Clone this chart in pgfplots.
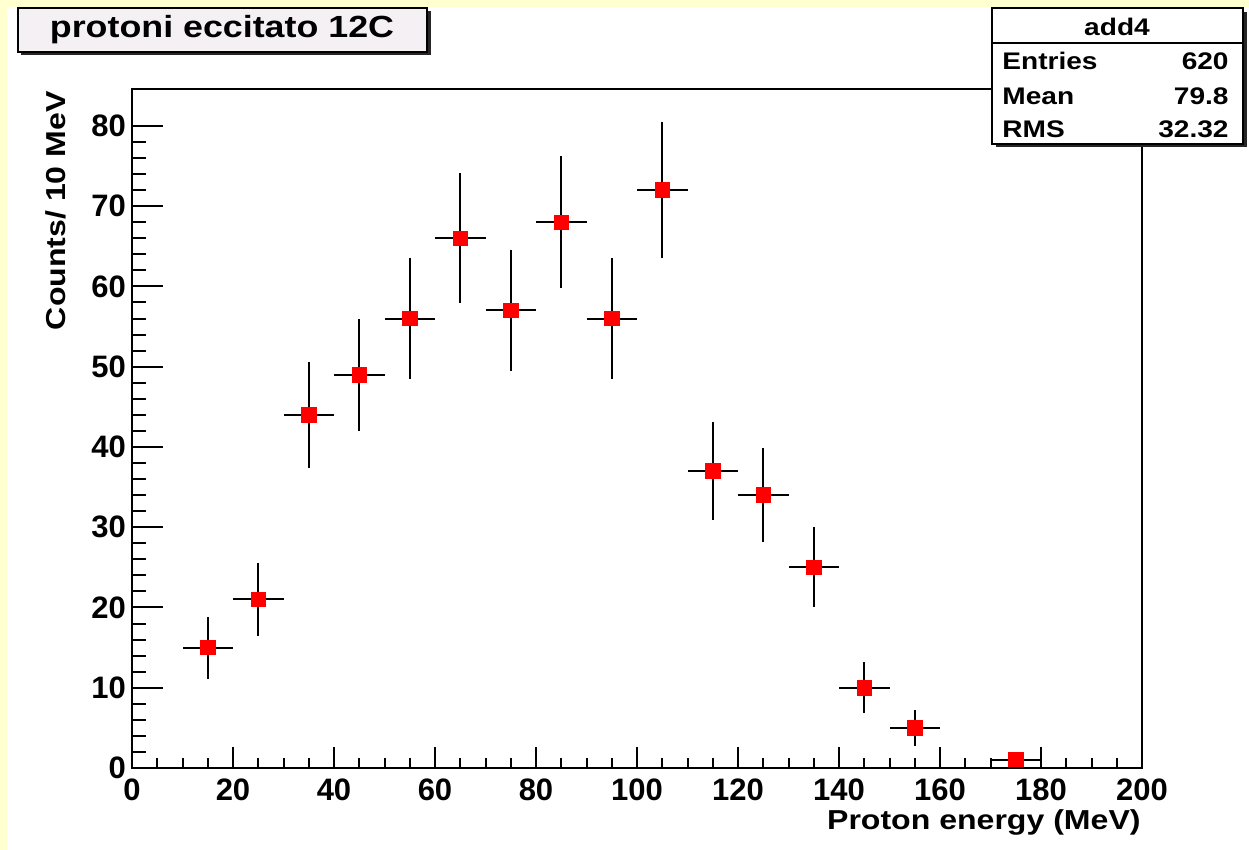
\documentclass[border=0pt]{standalone}
\usepackage{fontspec}
\setmainfont{Liberation Sans}
\newfontfamily\wide{Liberation Sans}[FakeStretch=1.17]
\usepackage{pgfplots}
\pgfplotsset{compat=1.18}
\definecolor{canvasyellow}{RGB}{255,255,208}
\definecolor{titlefill}{RGB}{244,240,244}

\pgfplotstableread{
x    y   ex  ey
15   15  5   3.87
25   21  5   4.58
35   44  5   6.63
45   49  5   7.00
55   56  5   7.48
65   66  5   8.12
75   57  5   7.55
85   68  5   8.25
95   56  5   7.48
105  72  5   8.49
115  37  5   6.08
125  34  5   5.83
135  25  5   5.00
145  10  5   3.16
155  5   5   2.24
175  1   5   1.00
}\datatable

\begin{document}
\begin{tikzpicture}[x=0.5pt,y=0.5pt]
\useasboundingbox (0,0) rectangle (1249,850);
\fill[canvasyellow] (0,0) rectangle (1249,850);
\fill[white] (7,0) rectangle (1249,843);

\pgfplotsset{rootframe/.style={
  at={(66pt,41pt)}, anchor=south west, scale only axis,
  width=505pt, height=339.5pt,
  xmin=0, xmax=200, ymin=0, ymax=84.6,
  tick pos=left, tick align=inside,
  axis line style={line width=1pt, black},
  every tick/.style={black, line width=1pt},
  ticklabel style={font=\fontsize{15.5}{15.5}\selectfont\bfseries},
  /pgf/number format/assume math mode=true,
}}

\begin{axis}[rootframe,
  xtick={0,20,...,200}, minor x tick num=3,
  ytick=\empty, minor y tick num=0,
  major tick length=10.5pt, minor tick length=5pt,
  xticklabel style={yshift=-2pt},
]
\addplot[only marks, mark=square*, mark size=3.65pt,
  mark options={fill=red, draw=red},
  error bars/.cd, x dir=both, x explicit, y dir=both, y explicit,
  error mark=none, error bar style={line width=1pt, black}]
  table[x=x, y=y, x error=ex, y error=ey] {\datatable};
\end{axis}

\begin{axis}[rootframe,
  xtick=\empty, minor x tick num=0,
  ytick={0,10,...,80}, minor y tick num=4,
  major tick length=15.5pt, minor tick length=7pt,
  yticklabel style={xshift=0.5pt},
]
\end{axis}

% axis titles
\node[anchor=east, font=\wide\bfseries\fontsize{13.7}{14}\selectfont, inner sep=0pt] at (1141,28) {Proton energy (MeV)};
\node[rotate=90, anchor=east, font=\wide\bfseries\fontsize{13.7}{14}\selectfont, inner sep=0pt] at (56,759) {Counts/ 10 MeV};

% title box
\fill[black!85] (21,795) rectangle (431,839);
\filldraw[fill=titlefill, draw=black, line width=1pt] (18,798) rectangle (427,842);
\node[font=\wide\bfseries\fontsize{15.3}{16}\selectfont, inner sep=0pt] at (222,820) {protoni eccitato 12C};

% stats box
\fill[black!85] (996,703) rectangle (1247,838);
\filldraw[fill=white, draw=black, line width=1pt] (992,706) rectangle (1243,842);
\draw[line width=1pt] (992,807) -- (1243,807);
\begin{scope}[every node/.style={font=\wide\bfseries\fontsize{12}{12}\selectfont, inner sep=0pt}]
\node at (1117,823) {add4};
\node[anchor=west] at (1002,789) {Entries};
\node[anchor=east] at (1229,789) {620};
\node[anchor=west] at (1002,754) {Mean};
\node[anchor=east] at (1229,754) {79.8};
\node[anchor=west] at (1002,721) {RMS};
\node[anchor=east] at (1229,721) {32.32};
\end{scope}
\end{tikzpicture}
\end{document}
